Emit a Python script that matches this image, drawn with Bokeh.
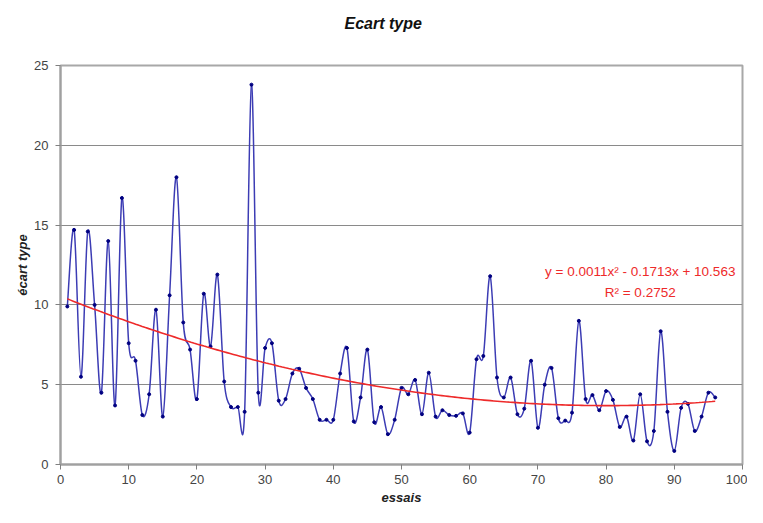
import numpy as np
from bokeh.plotting import figure
from bokeh.models import FixedTicker, Label, Title, Range1d
from bokeh.embed import file_html
from bokeh.resources import INLINE

# --- data ---
essais = list(range(1, 97))
ecart = [9.9, 14.7, 5.5, 14.6, 10.0, 4.5, 14.0, 3.7, 16.7, 7.6,
         6.5, 3.1, 4.4, 9.7, 3.0, 10.6, 18.0, 8.9, 7.2, 4.1,
         10.7, 7.4, 11.9, 5.2, 3.6, 3.6, 3.3, 23.8, 4.5, 7.3,
         7.6, 4.0, 4.1, 5.7, 6.0, 4.8, 4.1, 2.8, 2.8, 2.8,
         5.7, 7.3, 2.7, 4.2, 7.2, 2.65, 3.6, 1.9, 2.8, 4.8,
         4.4, 5.3, 3.15, 5.75, 3.0, 3.4, 3.1, 3.05, 3.2, 2.0,
         6.6, 6.8, 11.8, 5.45, 4.2, 5.45, 3.15, 3.5, 6.5, 2.3,
         5.0, 6.05, 2.9, 2.75, 3.25, 9.0, 4.1, 4.35, 3.4, 4.6,
         4.05, 2.35, 3.0, 1.5, 4.4, 1.45, 2.1, 8.35, 3.3, 0.85,
         3.55, 3.8, 2.1, 3.0, 4.5, 4.2]
# texts shown on the chart
title_text = "Ecart type"
trend_text = "y = 0.0011x\u00b2 - 0.1713x + 10.563"
r2_text = "R\u00b2 = 0.2752"
x_ticks = [0, 10, 20, 30, 40, 50, 60, 70, 80, 90, 100]
y_ticks = [0, 5, 10, 15, 20, 25]

FONT = "Liberation Sans"

p = figure(width=747, height=507, output_backend="svg", toolbar_location=None,
           x_range=Range1d(0, 100), y_range=Range1d(0, 25),
           min_border_left=60, min_border_right=5, min_border_top=65,
           min_border_bottom=40, title=None)
p.background_fill_color = "white"
p.border_fill_color = "white"
p.outline_line_color = "#a8a8a8"
p.outline_line_width = 2

# spacer between the frame and the title, then the title itself (further out)
spacer = Title(text=" ", standoff=9, text_font_size="10px")
p.add_layout(spacer, "above")
t = Title(text=title_text, align="left", offset=284, standoff=24,
          text_font=FONT, text_font_style="bold italic", text_font_size="16px",
          text_color="#111111")
p.add_layout(t, "above")

# axes
for ax in (p.xaxis[0], p.yaxis[0]):
    ax.axis_line_color = "#a0a0a0"
    ax.axis_line_width = 2
    ax.major_tick_line_color = "#808080"
    ax.major_tick_out = 5
    ax.major_tick_in = 0
    ax.minor_tick_line_color = None
    ax.major_label_text_font = FONT
    ax.major_label_text_font_size = "13px"
    ax.major_label_text_color = "#444444"
    ax.axis_label_text_font = FONT
    ax.axis_label_text_font_style = "bold italic"
    ax.axis_label_text_font_size = "13px"
    ax.axis_label_text_color = "#222222"
p.xaxis[0].ticker = FixedTicker(ticks=x_ticks)
p.yaxis[0].ticker = FixedTicker(ticks=y_ticks)
p.xaxis[0].axis_label = "essais"
p.yaxis[0].axis_label = "écart type"
p.xaxis[0].major_label_standoff = 5
p.yaxis[0].major_label_standoff = 7
p.xaxis[0].axis_label_standoff = 3
p.yaxis[0].axis_label_standoff = 1

p.xgrid.grid_line_color = None
p.ygrid.ticker = FixedTicker(ticks=y_ticks)
p.ygrid.grid_line_color = "#8a8a8a"
p.ygrid.grid_line_width = 1

# smoothed line (Catmull-Rom style Bezier segments like a spreadsheet "smoothed line")
x = np.array(essais, dtype=float)
y = np.array(ecart, dtype=float)
xp = np.concatenate([[x[0]], x, [x[-1]]])
yp = np.concatenate([[y[0]], y, [y[-1]]])
k = 1.0 / 6.0
x0, y0 = x[:-1], y[:-1]
x1, y1 = x[1:], y[1:]
cx0 = x0 + (xp[2:-1] - xp[0:-3]) * k
cy0 = y0 + (yp[2:-1] - yp[0:-3]) * k
cx1 = x1 - (xp[3:] - xp[1:-2]) * k
cy1 = y1 - (yp[3:] - yp[1:-2]) * k
p.bezier(x0=x0, y0=y0, x1=x1, y1=y1, cx0=cx0, cy0=cy0, cx1=cx1, cy1=cy1,
         line_color="#3c3cb4", line_width=1.5)
p.scatter(essais, ecart, size=3, marker="circle", fill_color="#000080",
          line_color="#000080")

# polynomial (order 2) trend line fitted on the series
coef = np.polyfit(x, y, 2)
tx = np.linspace(essais[0], essais[-1], 200)
ty = np.polyval(coef, tx)
p.line(tx, ty, line_color="#ee2a2a", line_width=1.6)

lab1 = Label(x=85, y=12.1, text=trend_text, text_align="center", text_baseline="middle",
             text_font=FONT, text_font_size="13.5px", text_color="#ee2a2a")
lab2 = Label(x=85, y=10.8, text=r2_text, text_align="center", text_baseline="middle",
             text_font=FONT, text_font_size="13.5px", text_color="#ee2a2a")
p.add_layout(lab1)
p.add_layout(lab2)

open("out.html", "w").write(file_html(p, INLINE))
